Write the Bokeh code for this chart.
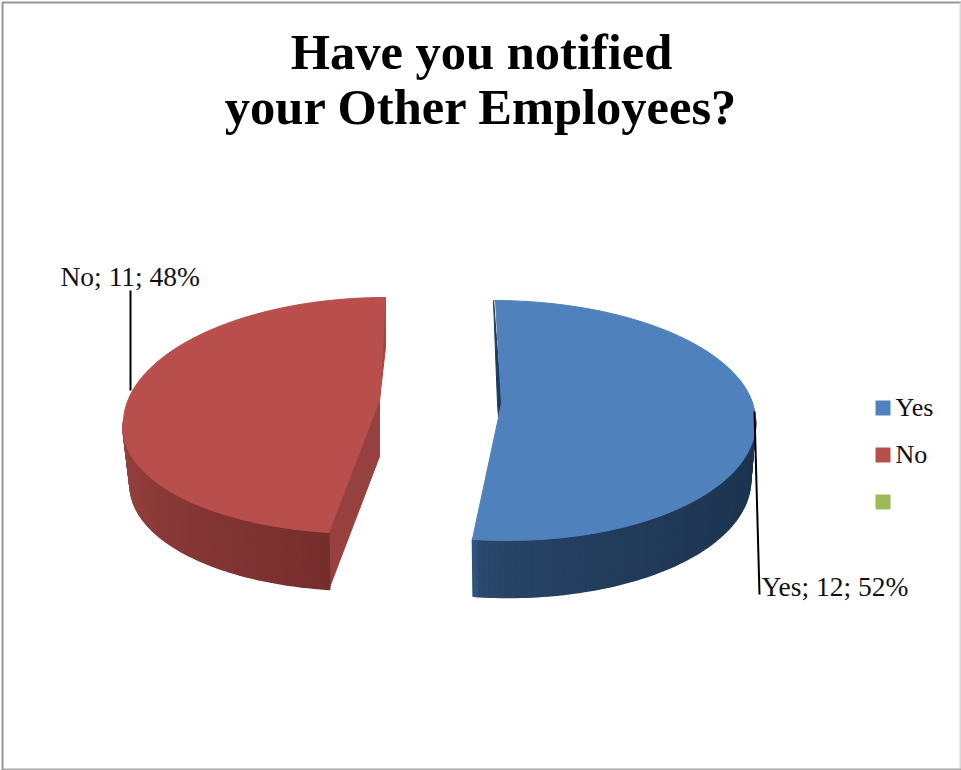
import math
from bokeh.plotting import figure
from bokeh.models import Range1d
from bokeh.core.properties import value
from bokeh.embed import file_html
from bokeh.resources import INLINE

# ---- data ----
categories = ["Yes", "No", ""]
values = [12, 11, 0]
percents = [52, 48, 0]
title_lines = ["Have you notified", "your Other Employees?"]
top_colors = ["#4F81BD", "#B94F4C", "#9BBB59"]

SERIF = value("Liberation Serif")
total = sum(values)
yes_sweep = 360.0 * values[0] / total

p = figure(width=961, height=770, x_range=Range1d(0, 961), y_range=Range1d(770, 0),
           output_backend="svg", toolbar_location=None, min_border=0,
           x_axis_type=None, y_axis_type=None)
p.grid.visible = False
p.outline_line_color = None
p.background_fill_color = "white"

# frame of the picture: darker on top and left, lighter on right and bottom
p.line([2, 2, 961], [770, 2, 2], line_color="#969696", line_width=2)
p.line([960, 960], [2, 770], line_color="#d8d8d8", line_width=2)
p.line([2, 961], [769, 769], line_color="#a8a8a8", line_width=2)


def rim(t_deg, g):
    t = math.radians(t_deg)
    c, s_ = math.cos(t), math.sin(t)
    back = c > 0
    b = g["b_back"] if back else g["b_front"]
    s = g["s_back"] if back else g["s_front"]
    return g["cx"] + g["a"] * s_ + s * c, g["cy"] - b * c


def sweep(a0, a1, n=90):
    return [a0 + (a1 - a0) * i / n for i in range(n + 1)]


def mix(c0, c1, f):
    return "#%02x%02x%02x" % tuple(round(x + (y - x) * f) for x, y in zip(c0, c1))


def draw_side(g, a0, a1, c0, c1, n=80, power=1.0):
    xs, ys, cols = [], [], []
    for i in range(n):
        t0 = a0 + (a1 - a0) * i / n
        t1 = a0 + (a1 - a0) * (i + 1) / n
        x0, y0 = rim(t0, g)
        x1, y1 = rim(t1, g)
        d = g["depth"]
        # the lower rim is slightly narrower than the upper one (perspective)
        in0 = g["inset"] * math.sin(math.radians(t0))
        in1 = g["inset"] * math.sin(math.radians(t1))
        xs.append([x0, x1, x1 - in1, x0 - in0])
        ys.append([y0, y1, y1 + d, y0 + d])
        cols.append(mix(c0, c1, (i / (n - 1)) ** power))
    p.patches(xs, ys, fill_color=cols, line_color=cols, line_width=1.5)


yes_geo = dict(cx=498, cy=418, a=257, b_back=118, b_front=122, s_back=-5, s_front=-9,
               ax=498, ay=417, depth=57, inset=5)
no_geo = dict(cx=379, cy=420, a=256, b_back=123, b_front=113, s_back=6, s_front=16,
              ax=379, ay=399, depth=57, inset=7)

# --- Yes wedge ---
g = yes_geo
sx, sy = rim(0, g)
ax, ay = g["ax"], g["ay"]
p.patch([sx, ax + 3, ax, ax - 1], [sy, ay - 14, ay, ay - 14],
        fill_color="#1F3A5C", line_color="#1F3A5C", line_width=1)
draw_side(g, yes_sweep, 90, (0x30, 0x53, 0x7C), (0x1D, 0x33, 0x4F), power=0.3)
pts = [rim(t, g) for t in sweep(0, yes_sweep)]
p.patch([sx + 2] + [q[0] for q in pts] + [ax, ax + 3],
        [sy] + [q[1] for q in pts] + [ay, ay - 14],
        fill_color=top_colors[0], line_color=top_colors[0], line_width=1)

# --- No wedge ---
g = no_geo
ex, ey = rim(yes_sweep, g)
d = g["depth"]
p.patch([g["ax"], g["ax"], ex, ex], [g["ay"], g["ay"] + d, ey + d, ey],
        fill_color="#964140", line_color="#964140", line_width=1)
draw_side(g, 270, yes_sweep, (0x98, 0x43, 0x40), (0x76, 0x2E, 0x2D))
tx, ty = rim(360, g)
p.patch([tx, tx, g["ax"]], [ty, ty + 50, g["ay"]], fill_color="#A54643", line_color="#A54643", line_width=1)
pts = [rim(t, g) for t in sweep(yes_sweep, 360)]
p.patch([g["ax"]] + [q[0] for q in pts], [g["ay"]] + [q[1] for q in pts],
        fill_color=top_colors[1], line_color=top_colors[1], line_width=1)

# --- leader lines and data labels ---
p.line([130, 130], [290, 390], line_color="black", line_width=2)
p.line([754, 759], [411, 594], line_color="black", line_width=2)
label_no = f"{categories[1]}; {values[1]}; {percents[1]}%"
label_yes = f"{categories[0]}; {values[0]}; {percents[0]}%"
p.text([60], [276], text=[label_no], text_font=SERIF, text_font_size="27.5px",
       text_baseline="alphabetic", text_align="left", text_color="#111111")
p.text([761], [586], text=[label_yes], text_font=SERIF, text_font_size="27.5px",
       text_baseline="alphabetic", text_align="left", text_color="#111111")

# --- title ---
p.text([481, 481], [51, 106], text=title_lines, text_font=SERIF, text_font_size="50.5px",
       text_font_style="bold", text_baseline="alphabetic", text_align="center", text_color="black")

# --- legend ---
ly = [407.5, 454.5, 501.5]
p.rect([882.5] * 3, ly, width=15, height=15, fill_color=top_colors, line_color=None)
p.text([895] * 3, [407, 454, 501], text=categories, text_font=SERIF, text_font_size="26px",
       text_baseline="alphabetic", text_align="left", text_color="#111111")

open("out.html", "w").write(file_html(p, INLINE))
